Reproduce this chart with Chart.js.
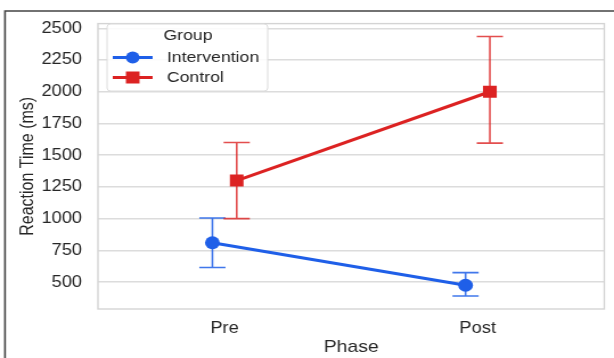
<!DOCTYPE html>
<html>
<head>
<meta charset="utf-8">
<script src="https://cdn.jsdelivr.net/npm/chart.js@4/dist/chart.umd.min.js"></script>
<style>
  html, body { margin: 0; padding: 0; background: #fff; overflow: hidden; }
  #wrap { width: 539px; height: 358px; transform: scaleX(1.1391); transform-origin: 0 0; }
</style>
</head>
<body>
<div id="wrap"><canvas id="chart" width="539" height="358"></canvas></div>
<script>
const phases = ['Pre', 'Post'];
const groups = ['Intervention', 'Control'];

const interventionMean = [810, 475];
const interventionLow = [615, 390];
const interventionHigh = [1005, 575];

const controlMean = [1300, 2000];
const controlLow = [1000, 1595];
const controlHigh = [1600, 2435];

const yTicks = [500, 750, 1000, 1250, 1500, 1750, 2000, 2250, 2500];

const blue = '#1f5fe8';
const red = '#dc2222';
const dodge = 0.048;
const fontFamily = '"Liberation Sans", Arial, sans-serif';

function points(means, shift) {
  return means.map((v, i) => ({ x: i + shift, y: v }));
}

// error bars, drawn under the lines and markers
const errorBars = {
  id: 'errorBars',
  beforeDatasetsDraw(chart) {
    const { ctx, scales } = chart;
    const sets = [
      { low: interventionLow, high: interventionHigh, shift: -dodge, color: 'rgba(31,95,232,0.85)' },
      { low: controlLow, high: controlHigh, shift: dodge, color: 'rgba(220,34,34,0.8)' },
    ];
    ctx.save();
    ctx.lineWidth = 1.6;
    sets.forEach((s) => {
      ctx.strokeStyle = s.color;
      phases.forEach((p, i) => {
        const x = scales.x.getPixelForValue(i + s.shift);
        const y1 = scales.y.getPixelForValue(s.low[i]);
        const y2 = scales.y.getPixelForValue(s.high[i]);
        ctx.beginPath();
        ctx.moveTo(x, y1); ctx.lineTo(x, y2);
        ctx.moveTo(x - 11.5, y1); ctx.lineTo(x + 11.5, y1);
        ctx.moveTo(x - 11.5, y2); ctx.lineTo(x + 11.5, y2);
        ctx.stroke();
      });
    });
    ctx.restore();
  },
};

// plot frame, outer screenshot border and legend
const decorations = {
  id: 'decorations',
  beforeDraw(chart) {
    const { ctx } = chart;
    ctx.save();
    ctx.fillStyle = '#fff';
    ctx.fillRect(0, 0, chart.width, chart.height);
    ctx.strokeStyle = '#444';
    ctx.lineWidth = 1.6;
    ctx.beginPath();
    ctx.moveTo(4.4, 358); ctx.lineTo(4.4, 11); ctx.lineTo(539, 11);
    ctx.stroke();
    ctx.restore();
  },
  afterDatasetsDraw(chart) {
    const { ctx, chartArea: a } = chart;
    ctx.save();
    ctx.strokeStyle = '#d4d4d4';
    ctx.lineWidth = 1.4;
    ctx.strokeRect(a.left, a.top, a.right - a.left, a.bottom - a.top);

    // legend box
    ctx.fillStyle = 'rgba(255,255,255,0.85)';
    ctx.strokeStyle = '#dcdcdc';
    ctx.lineWidth = 1;
    ctx.beginPath();
    ctx.roundRect(94, 24, 141, 67, 3);
    ctx.fill();
    ctx.stroke();

    ctx.fillStyle = '#262626';
    ctx.font = `15.5px ${fontFamily}`;
    ctx.textBaseline = 'middle';
    ctx.textAlign = 'center';
    ctx.fillText('Group', 165, 36);

    ctx.textAlign = 'left';
    const rows = [
      { label: groups[0], color: blue, y: 57.5, shape: 'circle' },
      { label: groups[1], color: red, y: 77.5, shape: 'rect' },
    ];
    rows.forEach((r) => {
      ctx.strokeStyle = r.color;
      ctx.fillStyle = r.color;
      ctx.lineWidth = 3;
      ctx.beginPath();
      ctx.moveTo(99, r.y); ctx.lineTo(134, r.y);
      ctx.stroke();
      ctx.beginPath();
      if (r.shape === 'circle') {
        ctx.arc(116.5, r.y, 6, 0, Math.PI * 2);
      } else {
        ctx.rect(110.5, r.y - 6, 12, 12);
      }
      ctx.fill();
      ctx.fillStyle = '#262626';
      ctx.fillText(r.label, 146.5, r.y + 0.5);
    });
    ctx.restore();
  },
};

new Chart(document.getElementById('chart'), {
  type: 'line',
  data: {
    datasets: [
      {
        label: groups[0],
        data: points(interventionMean, -dodge),
        borderColor: blue,
        backgroundColor: blue,
        borderWidth: 3,
        pointStyle: 'circle',
        pointRadius: 6.5,
        pointBorderWidth: 0,
      },
      {
        label: groups[1],
        data: points(controlMean, dodge),
        borderColor: red,
        backgroundColor: red,
        borderWidth: 3,
        pointStyle: 'rect',
        pointRadius: 8.5,
        pointBorderWidth: 0,
      },
    ],
  },
  options: {
    responsive: false,
    animation: false,
    devicePixelRatio: 1,
    layout: { padding: { left: 0, right: 7, top: 16, bottom: 0 } },
    plugins: { legend: { display: false }, tooltip: { enabled: false } },
    scales: {
      x: {
        type: 'linear',
        min: -0.5,
        max: 1.5,
        afterBuildTicks: (scale) => { scale.ticks = phases.map((p, i) => ({ value: i })); },
        afterFit: (scale) => { scale.height = 49; },
        grid: { display: false, drawTicks: false },
        border: { display: false },
        ticks: {
          callback: (v) => phases[v],
          color: '#262626',
          padding: 10,
          font: { family: fontFamily, size: 16 },
          maxRotation: 0,
        },
        title: {
          display: true,
          text: 'Phase',
          color: '#262626',
          font: { family: fontFamily, size: 17 },
          padding: { top: 0, bottom: 0 },
        },
      },
      y: {
        min: 288,
        max: 2537,
        afterBuildTicks: (scale) => { scale.ticks = yTicks.map((v) => ({ value: v })); },
        afterFit: (scale) => { scale.width = 86; },
        grid: { color: '#dcdcdc', lineWidth: 1.4, drawTicks: false },
        border: { display: false },
        ticks: {
          callback: (v) => String(v),
          color: '#262626',
          padding: 14,
          font: { family: fontFamily, size: 16 },
        },
        title: {
          display: true,
          text: 'Reaction Time (ms)',
          color: '#262626',
          font: { family: fontFamily, size: 16 },
          padding: { top: 14.5, bottom: 0 },
        },
      },
    },
  },
  plugins: [decorations, errorBars],
});
</script>
</body>
</html>
